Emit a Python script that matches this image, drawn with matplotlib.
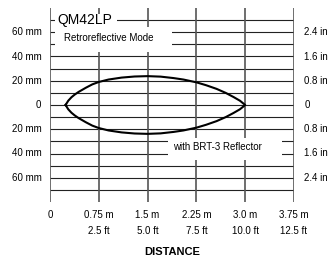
import matplotlib
matplotlib.use('Agg')
import matplotlib.pyplot as plt
from matplotlib.patches import Rectangle

# chart data
dist_m = [0, 0.75, 1.5, 2.25, 3.0, 3.75]
dist_m_lbl = ['0', '0.75 m', '1.5 m', '2.25 m', '3.0 m', '3.75 m']
dist_ft_lbl = ['', '2.5 ft', '5.0 ft', '7.5 ft', '10.0 ft', '12.5 ft']
grid_mm = [-70, -60, -50, -40, -30, -20, -10, 0, 10, 20, 30, 40, 50, 60, 70]
mm_ticks = [60, 40, 20, 0, -20, -40, -60]
mm_lbl = ['60 mm', '40 mm', '20 mm', '0', '20 mm', '40 mm', '60 mm']
in_lbl = ['2.4 in', '1.6 in', '0.8 in', '0', '0.8 in', '1.6 in', '2.4 in']
# upper half of the beam pattern (m, mm)
beam_x = [0.24, 0.28, 0.33, 0.38, 0.44, 0.55, 0.65, 0.75, 0.9, 1.1, 1.3, 1.5,
          1.7, 1.9, 2.05, 2.25, 2.4, 2.56, 2.7, 2.82, 2.92, 3.0]
beam_y = [0, 3.5, 6.4, 8.6, 10.8, 14.2, 17.0, 19.0, 21.0, 22.6, 23.5, 23.8,
          23.4, 22.2, 21.0, 18.7, 16.3, 13.3, 10.0, 6.6, 3.5, 0]

plt.rcParams['font.family'] = ['Liberation Sans', 'DejaVu Sans']

fig = plt.figure(figsize=(3.29, 2.62), dpi=100)
ax = fig.add_axes([50 / 329, 60 / 262, 244 / 329, 194 / 262])
ax.set_xlim(0, 3.75)
ax.set_ylim(-80, 80)
ax.axis('off')

# grid
ax.hlines(grid_mm, 0, 3.75, color='#222222', lw=0.8, zorder=1)
for x in dist_m:
    ax.axvline(x, color='#555555', lw=1.2, zorder=1)

# white boxes behind the labels
for (x0, y0, w, h) in [(0.077, 64, 0.95, 11), (0.077, 44, 1.8, 20), (1.81, -45, 1.755, 18)]:
    ax.add_patch(Rectangle((x0, y0), w, h, facecolor='white', edgecolor='none', zorder=2))

# beam pattern
bx = beam_x + beam_x[::-1]
by = beam_y + [-v for v in beam_y[::-1]]
ax.plot(bx, by, color='black', lw=1.5, zorder=3, solid_joinstyle='round')

ax.text(0.12, 70, 'QM42LP', fontsize=10, va='center', ha='left', zorder=4)
ax.text(0.22, 55, 'Retroreflective Mode', fontsize=7, va='center', ha='left', zorder=4)
ax.text(2.57, -35, 'with BRT-3 Reflector', fontsize=7, va='center', ha='center', zorder=4)

# axis labels
ytr = ax.get_yaxis_transform()
for v, l, r in zip(mm_ticks, mm_lbl, in_lbl):
    ax.text(-0.035, v, l, transform=ytr, ha='right', va='center', fontsize=7)
    ax.text(1.042, v, r, transform=ytr, ha='left', va='center', fontsize=7)

xtr = ax.get_xaxis_transform()
for x, m, f in zip(dist_m, dist_m_lbl, dist_ft_lbl):
    ax.text(x, -0.065, m, transform=xtr, ha='center', va='center', fontsize=7)
    ax.text(x, -0.147, f, transform=xtr, ha='center', va='center', fontsize=7)

ax.text(0.5, -0.258, 'DISTANCE', transform=ax.transAxes, ha='center', va='center',
        fontsize=8, fontweight='bold')

fig.savefig('out.png', dpi=100)
